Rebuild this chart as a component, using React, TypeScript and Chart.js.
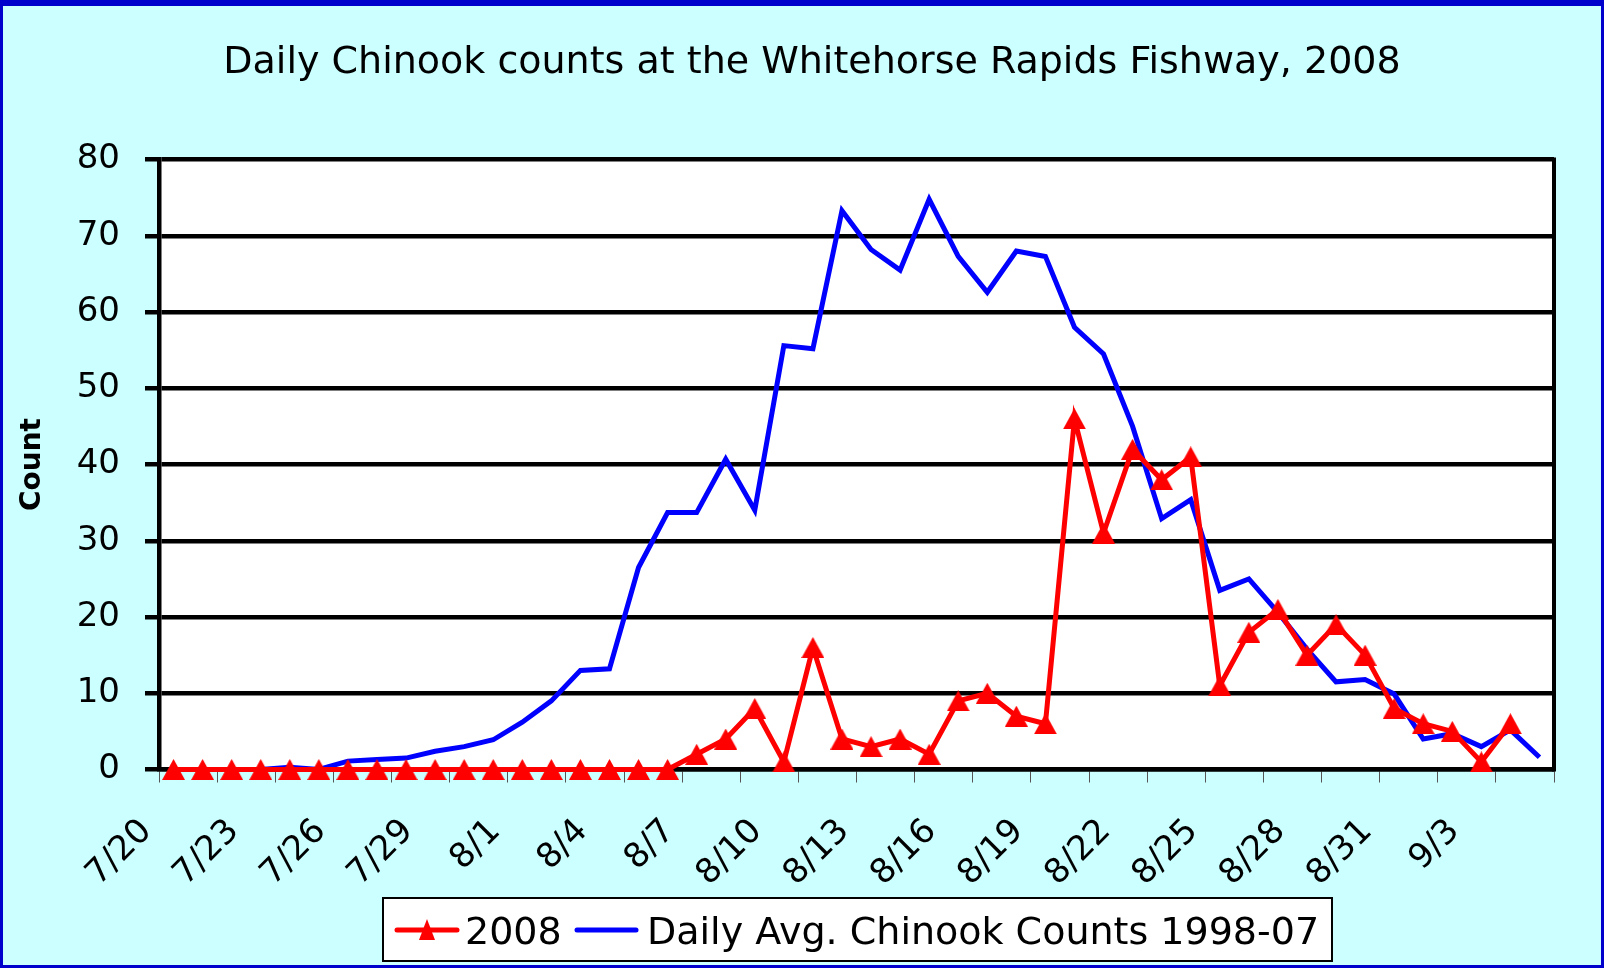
import React, { useEffect, useRef } from 'react';
import { Chart, registerables } from 'chart.js';

Chart.register(...registerables);

const dates = [
  '7/20', '7/21', '7/22', '7/23', '7/24', '7/25', '7/26', '7/27', '7/28', '7/29', '7/30', '7/31',
  '8/1', '8/2', '8/3', '8/4', '8/5', '8/6', '8/7', '8/8', '8/9', '8/10', '8/11', '8/12', '8/13',
  '8/14', '8/15', '8/16', '8/17', '8/18', '8/19', '8/20', '8/21', '8/22', '8/23', '8/24', '8/25',
  '8/26', '8/27', '8/28', '8/29', '8/30', '8/31', '9/1', '9/2', '9/3', '9/4', '9/5',
];

const counts2008 = [
  0, 0, 0, 0, 0, 0, 0, 0, 0, 0, 0, 0, 0, 0, 0, 0, 0, 0,
  2, 4, 8, 1, 16, 4, 3, 4, 2, 9, 10, 7, 6, 46, 31, 42, 38, 41, 11,
  18, 21, 15, 19, 15, 8, 6, 5, 1, 6,
];

const dailyAvg9807 = [
  0, 0, 0, 0, 0.3, 0, 1.1, 1.3, 1.5, 2.4, 3.0, 3.9,
  6.2, 9.0, 13.0, 13.2, 26.5, 33.7, 33.7, 40.7, 34.0, 55.6, 55.2, 73.3,
  68.2, 65.5, 74.8, 67.3, 62.6, 68.0, 67.3, 58.0, 54.5, 45.0, 32.9, 35.4,
  23.5, 25.0, 20.6, 15.8, 11.5, 11.8, 9.9, 4.0, 4.7, 3.0, 5.2, 1.6,
];

const yTicks = [0, 10, 20, 30, 40, 50, 60, 70, 80];
const titleText = 'Daily Chinook counts at the Whitehorse Rapids Fishway, 2008';
const legendLabels = ['2008', 'Daily Avg. Chinook Counts 1998-07'];

const FONT = '"DejaVu Sans", "Liberation Sans", Arial, sans-serif';

function makeTriangle(w: number, h: number, color: string) {
  const c = document.createElement('canvas');
  c.width = w;
  c.height = h;
  const g = c.getContext('2d') as CanvasRenderingContext2D;
  g.fillStyle = color;
  g.beginPath();
  g.moveTo(w / 2, 0);
  g.lineTo(w, h);
  g.lineTo(0, h);
  g.closePath();
  g.fill();
  return c;
}

const plotPlugin = {
  id: 'plotDecor',
  beforeDraw(chart: any) {
    const { ctx, chartArea: a } = chart;
    ctx.save();
    ctx.fillStyle = '#FFFFFF';
    ctx.fillRect(a.left, a.top, a.right - a.left, a.bottom - a.top);
    ctx.restore();
  },
  afterDraw(chart: any) {
    const { ctx, chartArea: a } = chart;
    ctx.save();
    // right border of plot area
    ctx.strokeStyle = '#000000';
    ctx.lineWidth = 4;
    ctx.beginPath();
    ctx.moveTo(a.right, a.top - 2);
    ctx.lineTo(a.right, a.bottom + 2);
    ctx.stroke();

    // legend
    const bx = 383, by = 898, bw = 949, bh = 63;
    ctx.fillStyle = '#FFFFFF';
    ctx.fillRect(bx, by, bw, bh);
    ctx.lineWidth = 2;
    ctx.strokeStyle = '#000000';
    ctx.strokeRect(bx, by, bw, bh);
    const cy = by + 32;
    ctx.lineCap = 'round';
    ctx.lineWidth = 5;
    ctx.strokeStyle = '#FF0000';
    ctx.beginPath();
    ctx.moveTo(397, cy);
    ctx.lineTo(457, cy);
    ctx.stroke();
    ctx.fillStyle = '#FF0000';
    ctx.beginPath();
    ctx.moveTo(427, cy - 11);
    ctx.lineTo(435, cy + 10);
    ctx.lineTo(419, cy + 10);
    ctx.closePath();
    ctx.fill();
    ctx.strokeStyle = '#0000FF';
    ctx.beginPath();
    ctx.moveTo(577, cy);
    ctx.lineTo(636, cy);
    ctx.stroke();
    ctx.fillStyle = '#000000';
    ctx.font = `38px ${FONT}`;
    ctx.textBaseline = 'alphabetic';
    ctx.textAlign = 'left';
    ctx.fillText(legendLabels[0], 465, by + 46);
    ctx.fillText(legendLabels[1], 647, by + 46);
    ctx.restore();
  },
};

export default function App() {
  const ref = useRef<HTMLCanvasElement>(null);
  useEffect(() => {
    const tri = makeTriangle(23, 21, '#FF0000');
    const chart = new Chart(ref.current as HTMLCanvasElement, {
      type: 'line',
      data: {
        labels: dates,
        datasets: [
          {
            label: legendLabels[0],
            data: counts2008,
            borderColor: '#FF0000',
            backgroundColor: '#FF0000',
            borderWidth: 5,
            tension: 0,
            pointStyle: tri,
            pointRadius: 12,
            pointBackgroundColor: '#FF0000',
            pointBorderColor: '#FF0000',
            pointBorderWidth: 0,
            clip: false as any,
          },
          {
            label: legendLabels[1],
            data: dailyAvg9807,
            borderColor: '#0000FF',
            backgroundColor: '#0000FF',
            borderWidth: 5,
            tension: 0,
            pointRadius: 0,
            clip: false as any,
          },
        ],
      },
      options: {
        animation: false,
        responsive: false,
        maintainAspectRatio: false,
        devicePixelRatio: 1,
        layout: { padding: { top: 0, left: 70, right: 50, bottom: 0 } },
        plugins: {
          legend: { display: false },
          tooltip: { enabled: false },
          title: {
            display: true,
            text: titleText,
            color: '#000000',
            font: { family: FONT, size: 38, weight: 'normal' },
            padding: { top: 40, bottom: 74 },
          },
        },
        scales: {
          x: {
            type: 'category',
            offset: true,
            afterFit(scale: any) {
              scale.height = 198.5;
            },
            grid: {
              offset: true,
              drawOnChartArea: false,
              drawTicks: true,
              tickLength: 13,
              lineWidth: 1,
              color: (ctx: any) => ((ctx.index ?? 0) % 2 === 0 ? '#555555' : 'rgba(0,0,0,0)'),
            },
            border: { display: true, color: '#000000', width: 4.5 },
            ticks: {
              autoSkip: false,
              maxRotation: 45,
              minRotation: 45,
              padding: 29,
              labelOffset: -27,
              color: '#000000',
              font: { family: FONT, size: 34 },
              callback: (_v: any, i: number) => (i % 3 === 0 ? dates[i] : ''),
            },
          },
          y: {
            min: 0,
            max: 80,
            afterFit(scale: any) {
              scale.width = 89;
            },
            afterBuildTicks(scale: any) {
              scale.ticks = yTicks.map((v) => ({ value: v }));
            },
            grid: {
              color: '#000000',
              lineWidth: 4.5,
              drawTicks: true,
              tickLength: 14,
            },
            border: { display: true, color: '#000000', width: 4.5 },
            ticks: {
              padding: 25,
              color: '#000000',
              font: { family: FONT, size: 34 },
            },
            title: {
              display: true,
              text: 'Count',
              color: '#000000',
              font: { family: FONT, size: 28, weight: 'bold' },
              padding: { top: -53.8, bottom: 0 },
            },
          },
        },
      },
      plugins: [plotPlugin],
    } as any);
    return () => chart.destroy();
  }, []);

  return (
    <div
      style={{
        position: 'fixed',
        left: 0,
        top: 0,
        width: 1604,
        height: 968,
        background: '#CCFFFF',
        overflow: 'hidden',
      }}
    >
      <canvas
        ref={ref}
        width={1604}
        height={968}
        style={{ position: 'absolute', left: 0, top: 0, width: 1604, height: 968 }}
      />
      <div
        style={{
          position: 'absolute',
          left: 0,
          top: 0,
          width: 1604,
          height: 968,
          boxSizing: 'border-box',
          borderStyle: 'solid',
          borderColor: '#0000CC',
          borderWidth: '6px 3px 3px 3px',
          pointerEvents: 'none',
        }}
      />
    </div>
  );
}
